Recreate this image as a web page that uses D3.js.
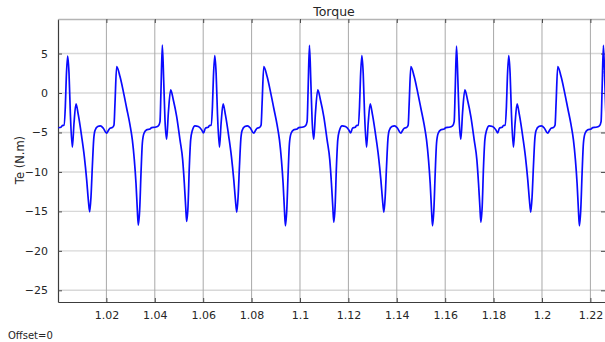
<!DOCTYPE html>
<html>
<head>
<meta charset="utf-8">
<script src="https://cdn.jsdelivr.net/npm/d3@7/dist/d3.min.js"></script>
<style>
  html, body { margin: 0; padding: 0; background: #fff; }
  svg { display: block; }
  text { font-family: "DejaVu Sans", "Liberation Sans", sans-serif; fill: #262626; }
</style>
</head>
<body>
<svg id="chart" width="605" height="342"></svg>
<script>
// Electromagnetic torque Te (N.m) sampled over time (s)
const timeS = [
  1.00014,1.00124,1.00179,1.00248,1.00303,1.00344,1.00400,1.00455,1.00510,1.00592,
  1.00661,1.00744,1.00840,1.00978,1.01088,1.01185,1.01253,1.01309,1.01364,1.01419,
  1.01474,1.01529,1.01639,1.01749,1.01873,1.02011,1.02080,1.02149,1.02245,1.02314,
  1.02355,1.02424,1.02562,1.02700,1.02838,1.02975,1.03072,1.03154,1.03223,1.03278,
  1.03319,1.03375,1.03430,1.03485,1.03554,1.03664,1.03802,1.03871,1.04008,1.04146,
  1.04215,1.04256,1.04311,1.04367,1.04421,1.04490,1.04559,1.04656,1.04766,1.04904,
  1.05041,1.05152,1.05220,1.05276,1.05317,1.05372,1.05427,1.05482,1.05551,1.05661,
  1.05799,1.05937,1.06013,
  1.06093,1.06203,1.06258,1.06327,1.06382,1.06423,1.06479,1.06534,1.06589,1.06671,
  1.06740,1.06823,1.06919,1.07057,1.07167,1.07264,1.07332,1.07388,1.07443,1.07498,
  1.07553,1.07608,1.07718,1.07828,1.07952,1.08090,1.08159,1.08228,1.08324,1.08393,
  1.08434,1.08503,1.08641,1.08779,1.08917,1.09054,1.09151,1.09233,1.09302,1.09357,
  1.09398,1.09454,1.09509,1.09564,1.09633,1.09743,1.09881,1.09950,1.10087,1.10225,
  1.10294,1.10335,1.10390,1.10446,1.10500,1.10569,1.10638,1.10735,1.10845,1.10983,
  1.11120,1.11231,1.11299,1.11355,1.11396,1.11451,1.11506,1.11561,1.11630,1.11740,
  1.11878,1.12016,1.12091,
  1.12171,1.12281,1.12336,1.12405,1.12460,1.12501,1.12557,1.12612,1.12667,1.12749,
  1.12818,1.12901,1.12997,1.13135,1.13245,1.13342,1.13410,1.13466,1.13521,1.13576,
  1.13631,1.13686,1.13796,1.13906,1.14030,1.14168,1.14237,1.14306,1.14402,1.14471,
  1.14512,1.14581,1.14719,1.14857,1.14995,1.15132,1.15229,1.15311,1.15380,1.15435,
  1.15476,1.15532,1.15587,1.15642,1.15711,1.15821,1.15959,1.16028,1.16165,1.16303,
  1.16372,1.16413,1.16468,1.16524,1.16578,1.16647,1.16716,1.16813,1.16923,1.17061,
  1.17198,1.17309,1.17377,1.17433,1.17474,1.17529,1.17584,1.17639,1.17708,1.17818,
  1.17956,1.18094,1.18170,
  1.18241,1.18351,1.18406,1.18475,1.18530,1.18571,1.18627,1.18682,1.18737,1.18819,
  1.18888,1.18971,1.19067,1.19205,1.19315,1.19412,1.19480,1.19536,1.19591,1.19646,
  1.19701,1.19756,1.19866,1.19976,1.20100,1.20238,1.20307,1.20376,1.20472,1.20541,
  1.20582,1.20651,1.20789,1.20927,1.21065,1.21202,1.21299,1.21381,1.21450,1.21505,
  1.21546,1.21602,1.21657,1.21712,1.21781,1.21891,1.22029,1.22098,1.22235,1.22373,
  1.22442,1.22483,1.22538,1.22594,1.22648
];
const torqueNm = [
  -4.40,-4.34,-4.13,-4.08,-1.72,2.08,4.69,2.50,-2.56,-6.87,
  -3.83,-1.38,-2.78,-5.52,-8.05,-11.00,-13.54,-15.05,-13.11,-9.32,
  -5.94,-4.76,-4.25,-4.17,-4.46,-5.10,-4.76,-4.46,-4.38,-4.04,
  -1.30,3.34,2.08,0.18,-1.93,-4.04,-5.94,-8.47,-11.43,-14.80,
  -16.74,-14.80,-10.16,-6.36,-5.10,-4.67,-4.55,-4.38,-4.34,-4.17,
  -3.62,0.39,6.08,1.65,-3.41,-5.86,-2.56,0.39,-0.88,-2.99,
  -5.94,-8.47,-11.43,-14.38,-16.28,-14.38,-9.32,-5.94,-4.76,-4.17,
  -4.25,-4.67,-5.07,
  -4.45,-4.34,-4.13,-4.08,-1.72,2.08,4.74,2.50,-2.56,-6.87,
  -3.83,-1.38,-2.78,-5.52,-8.05,-11.00,-13.54,-15.10,-13.11,-9.32,
  -5.94,-4.76,-4.25,-4.17,-4.46,-5.10,-4.76,-4.46,-4.38,-4.04,
  -1.30,3.34,2.08,0.18,-1.93,-4.04,-5.94,-8.47,-11.43,-14.80,
  -16.83,-14.80,-10.16,-6.36,-5.10,-4.67,-4.55,-4.38,-4.34,-4.17,
  -3.62,0.39,6.05,1.65,-3.41,-5.86,-2.56,0.39,-0.88,-2.99,
  -5.94,-8.47,-11.43,-14.38,-16.37,-14.38,-9.32,-5.94,-4.76,-4.17,
  -4.25,-4.67,-5.07,
  -4.45,-4.34,-4.13,-4.08,-1.72,2.08,4.74,2.50,-2.56,-6.87,
  -3.83,-1.38,-2.78,-5.52,-8.05,-11.00,-13.54,-15.10,-13.11,-9.32,
  -5.94,-4.76,-4.25,-4.17,-4.46,-5.10,-4.76,-4.46,-4.38,-4.04,
  -1.30,3.34,2.08,0.18,-1.93,-4.04,-5.94,-8.47,-11.43,-14.80,
  -16.83,-14.80,-10.16,-6.36,-5.10,-4.67,-4.55,-4.38,-4.34,-4.17,
  -3.62,0.39,5.93,1.65,-3.41,-5.86,-2.56,0.39,-0.88,-2.99,
  -5.94,-8.47,-11.43,-14.38,-16.37,-14.38,-9.32,-5.94,-4.76,-4.17,
  -4.25,-4.67,-5.07,
  -4.45,-4.34,-4.13,-4.08,-1.72,2.08,4.74,2.50,-2.56,-6.87,
  -3.83,-1.38,-2.78,-5.52,-8.05,-11.00,-13.54,-15.10,-13.11,-9.32,
  -5.94,-4.76,-4.25,-4.17,-4.46,-5.10,-4.76,-4.46,-4.38,-4.04,
  -1.30,3.34,2.08,0.18,-1.93,-4.04,-5.94,-8.47,-11.43,-14.80,
  -16.83,-14.80,-10.16,-6.36,-5.10,-4.67,-4.55,-4.38,-4.34,-4.17,
  -3.62,0.39,6.05,1.65,-3.41
];
const xTicks = [1.02, 1.04, 1.06, 1.08, 1.1, 1.12, 1.14, 1.16, 1.18, 1.2, 1.22];
const yTicks = [-25, -20, -15, -10, -5, 0, 5];
const titleText = "Torque";
const yLabelText = "Te (N.m)";
const offsetText = "Offset=0";

const plotLeft = 58, plotRight = 606, plotTop = 19, plotBottom = 302;
const x = d3.scaleLinear().domain([1.0, 1.22645]).range([plotLeft, plotRight]);
const y = d3.scaleLinear().domain([-26.48, 9.376]).range([plotBottom, plotTop]);

const svg = d3.select("#chart");
svg.append("rect").attr("width", 605).attr("height", 342).attr("fill", "#fff");

svg.append("clipPath").attr("id", "plot-clip")
  .append("rect").attr("x", plotLeft).attr("y", plotTop)
  .attr("width", plotRight - plotLeft).attr("height", plotBottom - plotTop);

// grid
const grid = svg.append("g");
grid.selectAll("line.h").data(yTicks).join("line").attr("class", "h")
  .attr("x1", plotLeft).attr("x2", plotRight)
  .attr("y1", d => y(d)).attr("y2", d => y(d))
  .attr("stroke", "#d8d8d8").attr("stroke-width", 1.4);
grid.selectAll("line.v").data(xTicks).join("line").attr("class", "v")
  .attr("y1", plotTop).attr("y2", plotBottom)
  .attr("x1", d => x(d)).attr("x2", d => x(d))
  .attr("stroke", "#a8a8a8").attr("stroke-width", 1);

// axes with inward ticks
const fmtX = d => String(+d.toFixed(2));
const bottomAxis = svg.append("g").attr("transform", `translate(0,${plotBottom})`)
  .call(d3.axisBottom(x).tickValues(xTicks).tickSizeInner(-4).tickSizeOuter(0).tickPadding(9).tickFormat(fmtX));
const leftAxis = svg.append("g").attr("transform", `translate(${plotLeft},0)`)
  .call(d3.axisLeft(y).tickValues(yTicks).tickSizeInner(-4).tickSizeOuter(0).tickPadding(10).tickFormat(d3.format("d")));
const topAxis = svg.append("g").attr("transform", `translate(0,${plotTop})`)
  .call(d3.axisTop(x).tickValues(xTicks).tickSizeInner(-4).tickSizeOuter(0).tickFormat(""));
const rightAxis = svg.append("g").attr("transform", `translate(${plotRight - 1},0)`)
  .call(d3.axisRight(y).tickValues(yTicks).tickSizeInner(-4).tickSizeOuter(0).tickFormat(""));

[bottomAxis, leftAxis].forEach(g => {
  g.select(".domain").attr("stroke", "#3c3c3c").attr("stroke-width", 1.2);
  g.selectAll(".tick line").attr("stroke", "#4a4a4a");
  g.selectAll(".tick text").attr("font-size", 11).attr("fill", "#262626")
    .attr("font-family", "DejaVu Sans, sans-serif");
});
topAxis.select(".domain").attr("stroke", "#b4b4b4").attr("stroke-width", 1.6);
topAxis.selectAll(".tick line").attr("stroke", "#4a4a4a");
rightAxis.select(".domain").attr("stroke", "none");
rightAxis.selectAll(".tick line").attr("stroke", "#4a4a4a");

// torque trace
const pts = timeS.map((t, i) => [t, torqueNm[i]]);
svg.append("path")
  .datum(pts)
  .attr("clip-path", "url(#plot-clip)")
  .attr("fill", "none")
  .attr("stroke", "#0a0aff")
  .attr("stroke-width", 1.7)
  .attr("stroke-linejoin", "round")
  .attr("d", d3.line().x(d => x(d[0])).y(d => y(d[1])).curve(d3.curveMonotoneX));

// labels
svg.append("text").attr("x", 334).attr("y", 16).attr("text-anchor", "middle")
  .attr("font-size", 12.5).text(titleText);
svg.append("text").attr("transform", "translate(24,160) rotate(-90)")
  .attr("text-anchor", "middle").attr("font-size", 11.5).text(yLabelText);
svg.append("text").attr("x", 8).attr("y", 339).attr("font-size", 10).text(offsetText);
</script>
</body>
</html>
